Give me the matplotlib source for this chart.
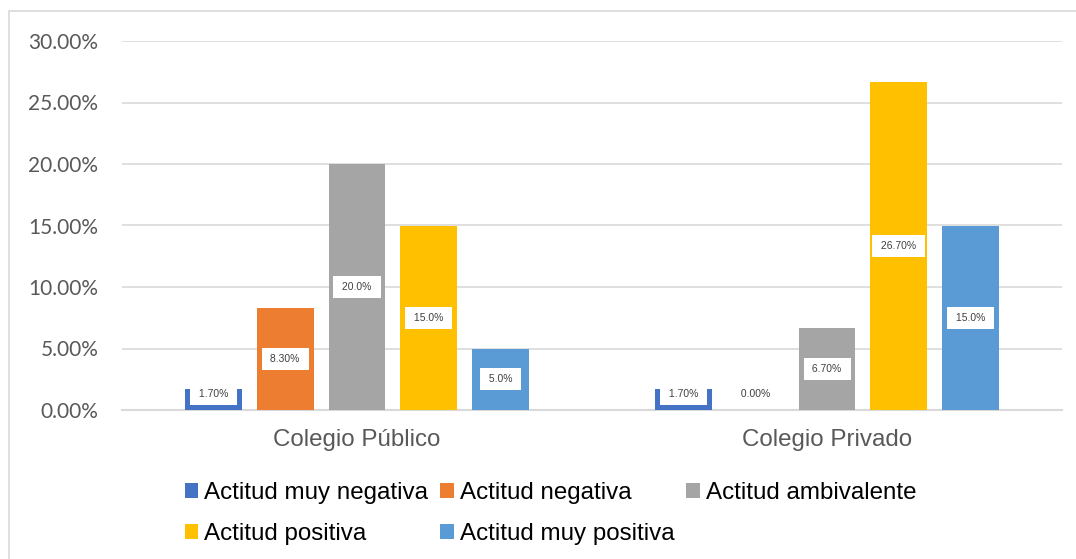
import matplotlib.pyplot as plt
import matplotlib.patches as mpatches
import numpy as np

# data
categories = ['Colegio Público', 'Colegio Privado']
series = ['Actitud muy negativa', 'Actitud negativa', 'Actitud ambivalente',
          'Actitud positiva', 'Actitud muy positiva']
values = [
    [0.017, 0.017],   # muy negativa
    [0.083, 0.000],   # negativa
    [0.200, 0.067],   # ambivalente
    [0.150, 0.267],   # positiva
    [0.050, 0.150],   # muy positiva
]
labels = [
    ['1.70%', '1.70%'],
    ['8.30%', '0.00%'],
    ['20.0%', '6.70%'],
    ['15.0%', '26.70%'],
    ['5.0%', '15.0%'],
]
colors = ['#4472C4', '#ED7D31', '#A5A5A5', '#FFC000', '#5B9BD5']

W, H = 1076, 559
fig = plt.figure(figsize=(W / 100, H / 100), dpi=100)
ax = fig.add_axes([122 / W, 1 - 410 / H, 940 / W, 369 / H])

# outer chart border
fig.patches.append(mpatches.Rectangle((9 / W, -0.01), 1.0, 1 - 11 / H + 0.01,
                                      transform=fig.transFigure, fill=False,
                                      edgecolor='#D9D9D9', lw=1.2))

x = np.arange(len(categories))
bw = 0.121
step = 0.153
handles = []
for i, (name, vals) in enumerate(zip(series, values)):
    pos = x + (i - 2) * step
    bars = ax.bar(pos, vals, width=bw, color=colors[i], label=name, zorder=3)
    handles.append(bars)
    for b, v, lab in zip(bars, vals, labels[i]):
        # small bars get their label lifted a bit, as Excel does
        ax.text(b.get_x() + b.get_width() / 2, max(v / 2, 0.013), ' ' + lab + ' ',
                ha='center', va='center', fontsize=7.5, color='#404040',
                family='Liberation Sans', zorder=5,
                bbox=dict(facecolor='white', edgecolor='none', pad=4.3))

ticks = np.arange(0, 0.31, 0.05)
ax.set_xlim(-0.5, 1.5)
ax.set_ylim(0, 0.30)
ax.set_yticks(ticks)
ax.set_yticklabels([f'{t * 100:.2f}%' for t in ticks],
                   fontsize=15, family='Lato', color='#595959')
ax.set_xticks(x)
ax.set_xticklabels(categories, fontsize=17.4, family='Liberation Sans', color='#595959')
ax.tick_params(axis='both', length=0)
ax.tick_params(axis='y', pad=17)
ax.tick_params(axis='x', pad=14)
ax.grid(axis='y', color='#D9D9D9', lw=1.2, zorder=0)
for s in ['top', 'right', 'left']:
    ax.spines[s].set_visible(False)
ax.spines['bottom'].set_color('#D9D9D9')
ax.spines['bottom'].set_linewidth(1.5)

# legend: reorder so it fills row by row
order = [0, 3, 1, 4, 2]
leg = fig.legend([handles[k] for k in order], [series[k] for k in order],
                 ncol=3, loc='center left', bbox_to_anchor=(185 / W, 1 - 513.5 / H),
                 frameon=False, prop={'family': 'Liberation Sans', 'size': 17.4},
                 handlelength=0.55, handleheight=0.55, handletextpad=0.25,
                 columnspacing=0.5, labelspacing=0.8, borderpad=0, borderaxespad=0)

fig.savefig('out.png', dpi=100)
